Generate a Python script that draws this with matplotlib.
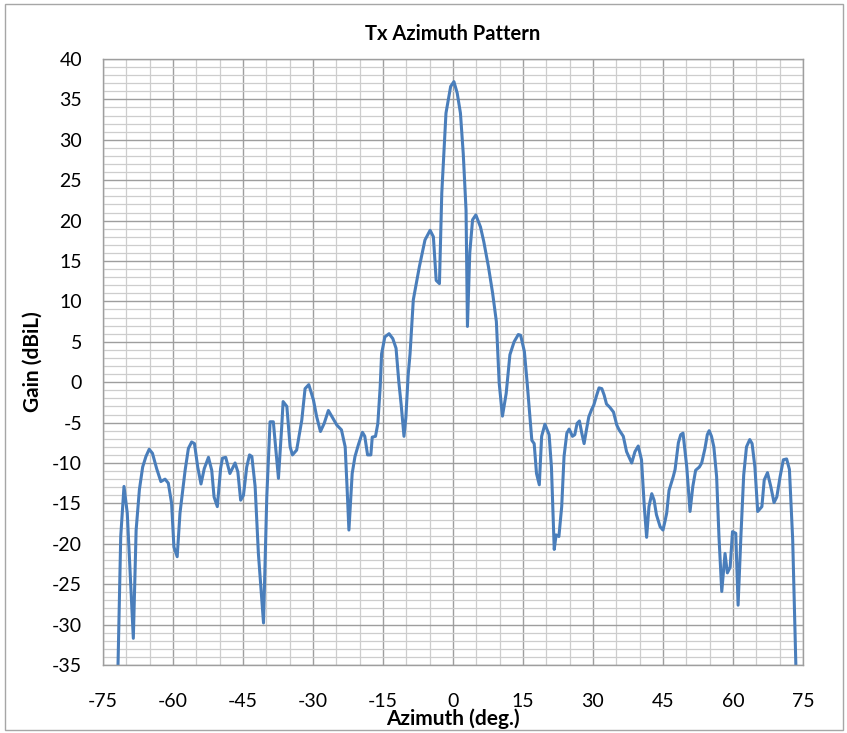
import matplotlib.pyplot as plt
from matplotlib.patches import Rectangle
from matplotlib.ticker import MultipleLocator

plt.rcParams['font.family'] = ['Lato', 'DejaVu Sans']
plt.rcParams['axes.unicode_minus'] = False

# azimuth samples (deg) and measured gain (dBiL)
azimuth = [
    -71.8, -71.2, -70.5, -69.8, -68.5, -67.9, -67.2, -66.5, -65.8, -65.1,
    -64.4, -63.5, -62.6, -61.7, -61.0, -60.3, -59.8, -59.1, -58.5, -57.4,
    -56.7, -56.0, -55.4, -54.7, -54.0, -53.3, -52.4, -51.7, -51.2, -50.5,
    -49.8, -49.4, -48.7, -47.8, -46.7, -46.1, -45.5, -44.9, -44.2, -43.6,
    -43.1, -42.4, -41.7, -40.6, -39.9, -39.2, -38.5, -37.4, -36.7, -36.4,
    -35.6, -34.9, -34.4, -33.5, -32.4, -31.7, -30.9, -29.9, -29.2, -28.4,
    -27.6, -26.7, -25.9, -24.9, -23.9, -23.1, -22.7, -22.3, -21.6, -21.0,
    -20.3, -19.4, -18.9, -18.3, -17.6, -17.3, -16.6, -16.1, -15.6, -15.3,
    -14.6, -13.7, -12.9, -12.2, -11.6, -11.1, -10.5, -10.1, -9.6, -9.2,
    -8.5, -7.2, -6.0, -4.9, -4.2, -3.6, -2.9, -2.4, -1.5, -0.5,
    0.2, 0.9, 1.6, 2.2, 2.8, 3.1, 3.6, 4.2, 4.9, 5.9,
    6.6, 7.6, 8.5, 9.3, 9.9, 10.6, 11.4, 12.2, 13.1, 14.0,
    14.5, 15.3, 15.9, 16.9, 17.4, 17.9, 18.5, 19.0, 19.7, 20.6,
    21.1, 21.7, 22.1, 22.7, 23.3, 23.8, 24.4, 24.9, 25.6, 26.1,
    26.6, 27.1, 27.6, 28.1, 28.6, 29.1, 29.7, 30.2, 30.8, 31.3,
    31.9, 32.4, 32.9, 33.6, 34.4, 35.1, 35.6, 36.5, 37.2, 38.3,
    39.0, 39.7, 40.4, 41.0, 41.5, 42.0, 42.6, 43.1, 43.6, 44.4,
    45.0, 45.4, 45.8, 46.3, 47.2, 47.6, 48.3, 48.8, 49.3, 50.1,
    50.8, 51.4, 52.0, 52.8, 53.3, 54.0, 54.5, 54.9, 55.4, 55.9,
    56.5, 57.0, 57.6, 58.3, 58.8, 59.4, 59.9, 60.6, 61.1, 61.7,
    62.3, 62.9, 63.6, 64.1, 64.7, 65.3, 66.2, 66.7, 67.4, 68.1,
    68.8, 69.4, 70.1, 70.8, 71.5, 72.1, 72.8, 73.5,
]
gain = [
    -35.5, -19.1, -12.9, -16.2, -31.7, -18.3, -13.3, -10.5, -9.2, -8.3,
    -8.8, -10.7, -12.3, -12.0, -12.5, -15.0, -20.4, -21.6, -16.2, -10.9,
    -8.2, -7.4, -7.6, -10.5, -12.6, -10.7, -9.3, -10.9, -14.2, -15.4,
    -10.7, -9.4, -9.3, -11.3, -10.0, -11.1, -14.6, -14.0, -10.5, -9.0,
    -9.2, -12.9, -21.2, -29.8, -14.2, -4.9, -4.9, -11.9, -5.5, -2.4,
    -3.0, -8.0, -9.0, -8.4, -4.7, -0.8, -0.3, -2.2, -4.3, -6.1,
    -5.1, -3.5, -4.3, -5.3, -5.9, -8.0, -13.0, -18.3, -11.3, -9.2,
    -7.8, -6.2, -6.7, -9.0, -9.0, -6.8, -6.7, -5.1, -0.6, 3.5,
    5.6, 6.0, 5.4, 4.2, 0.0, -2.8, -6.7, -4.4, 0.9, 3.5,
    10.2, 14.3, 17.6, 18.8, 18.0, 12.6, 12.2, 23.4, 33.3, 36.6,
    37.2, 35.8, 33.3, 28.3, 21.3, 6.9, 16.0, 20.1, 20.7, 19.2,
    17.4, 14.3, 11.0, 7.5, -0.1, -4.2, -1.4, 3.4, 5.0, 5.9,
    5.8, 3.8, -0.1, -7.2, -7.6, -11.3, -12.7, -6.7, -5.2, -6.5,
    -10.5, -20.7, -18.9, -19.1, -15.4, -9.2, -6.3, -5.8, -6.7, -6.5,
    -5.1, -4.8, -6.3, -7.6, -5.9, -4.3, -3.4, -2.8, -1.6, -0.7,
    -0.8, -1.6, -2.7, -3.1, -3.7, -5.3, -5.9, -6.7, -8.6, -10.0,
    -8.6, -7.9, -9.6, -15.4, -19.2, -15.4, -13.8, -14.6, -16.4, -17.9,
    -18.3, -17.3, -16.2, -13.4, -11.7, -10.8, -7.5, -6.5, -6.3, -10.5,
    -16.0, -12.9, -10.9, -10.5, -10.0, -8.2, -6.5, -6.0, -6.7, -8.0,
    -11.7, -19.1, -25.9, -21.2, -23.6, -22.9, -18.5, -18.7, -27.6, -19.1,
    -11.5, -8.0, -7.1, -7.6, -10.5, -16.0, -15.4, -12.1, -11.2, -12.9,
    -14.9, -14.2, -11.7, -9.6, -9.5, -10.8, -19.5, -35.5,
]

fig = plt.figure(figsize=(8.47, 7.33), dpi=100)
ax = fig.add_axes([0.1216, 0.0928, 0.8264, 0.8267])

ax.plot(azimuth, gain, color='#4A7EBB', linewidth=2.2,
        solid_joinstyle='round', solid_capstyle='round')

ax.set_xlim(-75, 75)
ax.set_ylim(-35, 40)
ax.xaxis.set_major_locator(MultipleLocator(15))
ax.xaxis.set_minor_locator(MultipleLocator(5))
ax.yaxis.set_major_locator(MultipleLocator(5))
ax.yaxis.set_minor_locator(MultipleLocator(1))

ax.grid(which='minor', color='#CDCDCD', linewidth=0.9)
ax.grid(which='major', color='#9E9E9E', linewidth=1.0)
ax.set_axisbelow(True)
for s in ax.spines.values():
    s.set_color('#9E9E9E')
    s.set_linewidth(1.0)

ax.tick_params(which='both', length=0, labelsize=14)
ax.tick_params(axis='x', pad=20)
ax.tick_params(axis='y', pad=15)

ax.set_title('Tx Azimuth Pattern', fontsize=14.5, fontweight='bold', pad=14)
ax.set_xlabel('Azimuth (deg.)', fontsize=15, fontweight='bold', labelpad=-1)
ax.set_ylabel('Gain (dBiL)', fontsize=15, fontweight='bold', labelpad=7)

# chart-area frame
fig.patches.append(Rectangle((0.006, 0.004), 0.989, 0.991, transform=fig.transFigure,
                             fill=False, edgecolor='#A6A6A6', linewidth=1.0))

fig.savefig('out.png', dpi=100)
